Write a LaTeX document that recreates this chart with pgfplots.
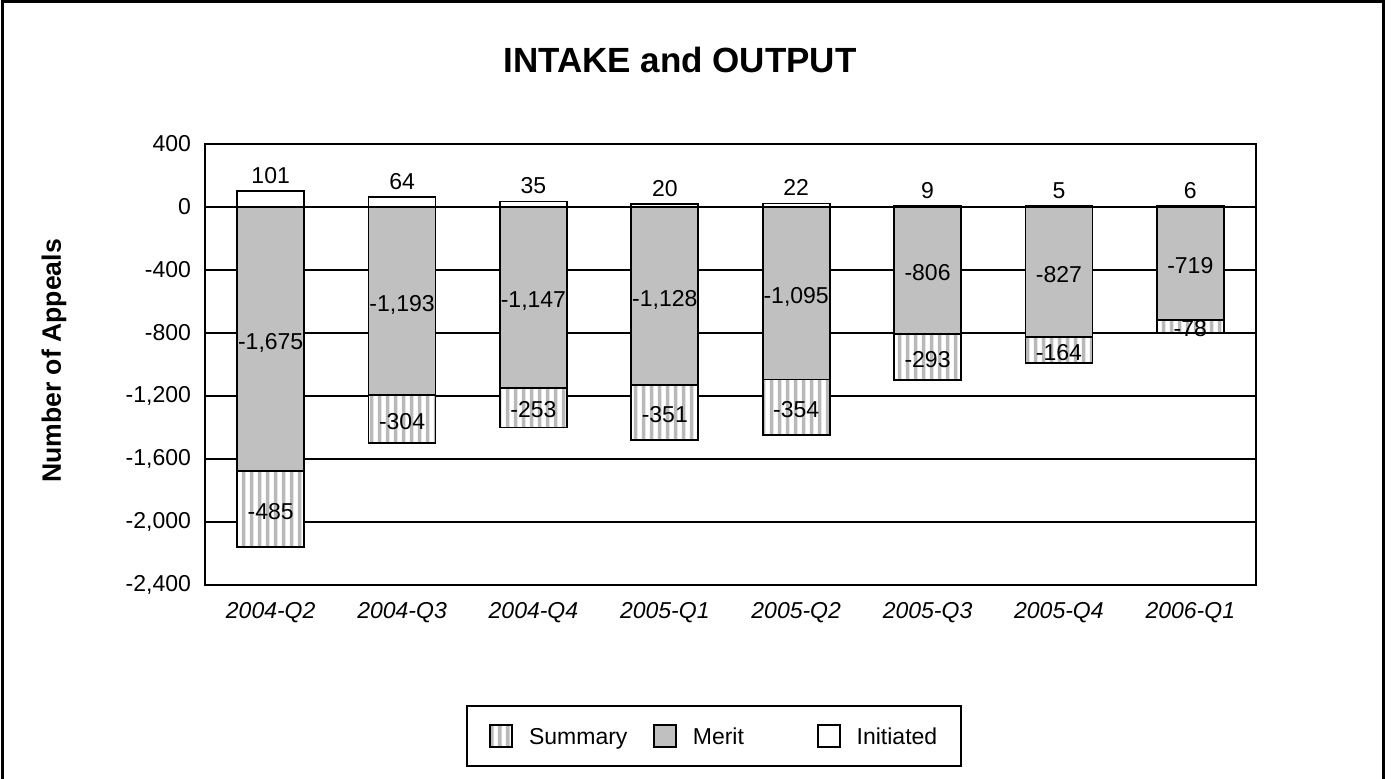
\documentclass[border=0pt]{standalone}
\usepackage{fontspec}
\setmainfont{Liberation Sans}
\usepackage{pgfplots}
\pgfplotsset{compat=1.18}
\usepackage{pgfplotstable}
\usetikzlibrary{patterns}
\definecolor{meritc}{RGB}{192,192,192}
\definecolor{hatchc}{RGB}{185,185,185}

\pgfdeclarepatternformonly{vstripes}{\pgfpoint{0pt}{0pt}}{\pgfpoint{4pt}{4pt}}{\pgfpoint{4pt}{4pt}}{%
  \pgfpathrectangle{\pgfpoint{1pt}{-0.5pt}}{\pgfpoint{2pt}{5pt}}\pgfusepath{fill}}

% x, Initiated, Merit, Merit+Summary (bottom of bar)
\pgfplotstableread{
x ini merit tot
0 101 -1675 -2160
1 64 -1193 -1497
2 35 -1147 -1400
3 20 -1128 -1479
4 22 -1095 -1449
5 9 -806 -1099
6 5 -827 -991
7 6 -719 -797
}\bars

\pgfplotstableread{
x y lab
0 -837.5 -1,675
0 -1917.5 -485
1 -596.5 -1,193
1 -1345 -304
2 -573.5 -1,147
2 -1273.5 -253
3 -564 -1,128
3 -1303.5 -351
4 -547.5 -1,095
4 -1272 -354
5 -403 -806
5 -952.5 -293
6 -413.5 -827
6 -909 -164
7 -359.5 -719
7 -758 -78
}\labs

\pgfplotsset{
  mybar/.style={ybar, bar width=33.5pt, bar shift=0pt, draw=black, line width=0.9pt,
    legend image code/.code={\draw[##1] (0pt,-4.4pt) rectangle (11pt,6.6pt);}},
}

\begin{document}
\begin{tikzpicture}
\begin{axis}[
  scale only axis,
  width=525.5pt, height=220.5pt,
  xmin=-0.5, xmax=7.5,
  ymin=-2400, ymax=400,
  ytick={-2400,-2000,-1600,-1200,-800,-400,0,400},
  xtick={0,...,7},
  xticklabels={2004-Q2,2004-Q3,2004-Q4,2005-Q1,2005-Q2,2005-Q3,2005-Q4,2006-Q1},
  major tick length=0pt,
  axis line style={line width=0.9pt},
  ymajorgrids,
  grid style={black, line width=0.9pt},
  /pgf/number format/.cd, 1000 sep={,}, assume math mode=true, /pgfplots/.cd,
  tick label style={font=\fontsize{11.5}{13}\selectfont},
  xticklabel style={font=\fontsize{11.5}{13}\selectfont\itshape, yshift=-5pt},
  yticklabel style={xshift=-3.5pt},
  legend columns=3,
  legend style={at={(0.4843,-0.3424)}, anchor=center, draw=black, line width=0.9pt,
    inner xsep=11pt, inner ysep=9pt, column sep=0pt,
    nodes={inner sep=0pt}, font=\fontsize{11.5}{13}\selectfont},
]
\addplot[mybar, fill=white, postaction={pattern=vstripes, pattern color=hatchc}]
  table[x=x, y=tot] {\bars};
\addlegendentry{\hspace{8pt}\makebox[62pt][l]{Summary}}
\addplot[mybar, fill=meritc] table[x=x, y=merit] {\bars};
\addlegendentry{\hspace{8pt}\makebox[62pt][l]{Merit}}
\addplot[mybar, fill=white, nodes near coords,
  nodes near coords style={font=\fontsize{11.5}{13}\selectfont, black, text height=8.3pt, text depth=0pt}]
  table[x=x, y=ini] {\bars};
\addlegendentry{\hspace{8pt}\makebox[41pt][l]{Initiated}}
\addplot[forget plot, only marks, mark=*, mark size=0pt, mark options={draw=none, fill=none},
  nodes near coords, point meta=explicit symbolic,
  nodes near coords style={anchor=center, font=\fontsize{11.5}{13}\selectfont, black,
    text height=8.3pt, text depth=0pt, yshift=-1pt}]
  table[x=x, y=y, meta=lab] {\labs};
\end{axis}
\node[font=\fontsize{17.5}{20}\selectfont\bfseries] at (237.5pt,262.5pt) {INTAKE and OUTPUT};
\node[rotate=90, font=\fontsize{13.3}{15}\selectfont\bfseries] at (-75.5pt,112pt) {Number of Appeals};
\draw[line width=1.5pt] (-101.25pt,-110pt) -- (-101.25pt,291.5pt) -- (589pt,291.5pt) -- (589pt,-110pt);
\pgfresetboundingbox
\path[use as bounding box] (-102.5pt,-96.5pt) rectangle (593.5pt,292.5pt);
\end{tikzpicture}
\end{document}
